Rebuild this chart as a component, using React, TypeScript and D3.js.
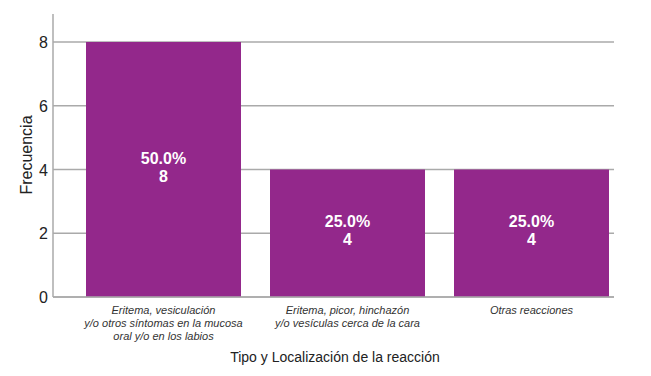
import React from "react";
import * as d3 from "d3";

const categories = [
  ["Eritema, vesiculación", "y/o otros síntomas en la mucosa", "oral y/o en los labios"],
  ["Eritema, picor, hinchazón", "y/o vesículas cerca de la cara"],
  ["Otras reacciones"],
];
const values = [8, 4, 4];
const percents = ["50.0%", "25.0%", "25.0%"];
const yTicks = [0, 2, 4, 6, 8];

const W = 651, H = 376;
const FONT = "'Liberation Sans', Arial, sans-serif";

export default function App() {
  const x = d3
    .scaleBand<number>()
    .domain(values.map((_, i) => i))
    .range([71.5, 623.5])
    .paddingInner(0.1576)
    .paddingOuter(0.0788);
  const y = d3.scaleLinear().domain([0, 8]).range([297, 42]);
  const left = 53, right = 614, top = 14;
  return (
    <svg width={W} height={H} style={{ position: "absolute", left: 0, top: 0, fontFamily: FONT }}>
      <rect width={W} height={H} fill="#fff" />
      {yTicks.map((t) => (
        <g key={t}>
          <line x1={left} x2={right} y1={y(t)} y2={y(t)} stroke="#aaa" strokeWidth={1.5} />
          <text x={48} y={y(t) + 6} textAnchor="end" fontSize={16} fill="#222">{t}</text>
        </g>
      ))}
      <line x1={left} x2={left} y1={top} y2={297} stroke="#aaa" strokeWidth={1.5} />
      {values.map((v, i) => {
        const x0 = x(i)!;
        const bw = x.bandwidth();
        const cy = (y(v) + y(0)) / 2;
        return (
          <g key={i}>
            <rect x={x0} y={y(v)} width={bw} height={y(0) - y(v)} fill="#93288B" />
            <text x={x0 + bw / 2} y={cy - 6} textAnchor="middle" fontSize={16} fontWeight="bold" fill="#fff">{percents[i]}</text>
            <text x={x0 + bw / 2} y={cy + 12} textAnchor="middle" fontSize={16} fontWeight="bold" fill="#fff">{v}</text>
            {categories[i].map((line, j) => (
              <text key={j} x={x0 + bw / 2} y={314 + j * 13} textAnchor="middle" fontSize={11} fontStyle="italic" fill="#333">{line}</text>
            ))}
          </g>
        );
      })}
      <line x1={left} x2={right} y1={297} y2={297} stroke="#aaa" strokeWidth={1.5} />
      <text x={335} y={362} textAnchor="middle" fontSize={14} fill="#222">Tipo y Localización de la reacción</text>
      <text transform={`translate(32,155) rotate(-90)`} textAnchor="middle" fontSize={16} fill="#222">Frecuencia</text>
    </svg>
  );
}
